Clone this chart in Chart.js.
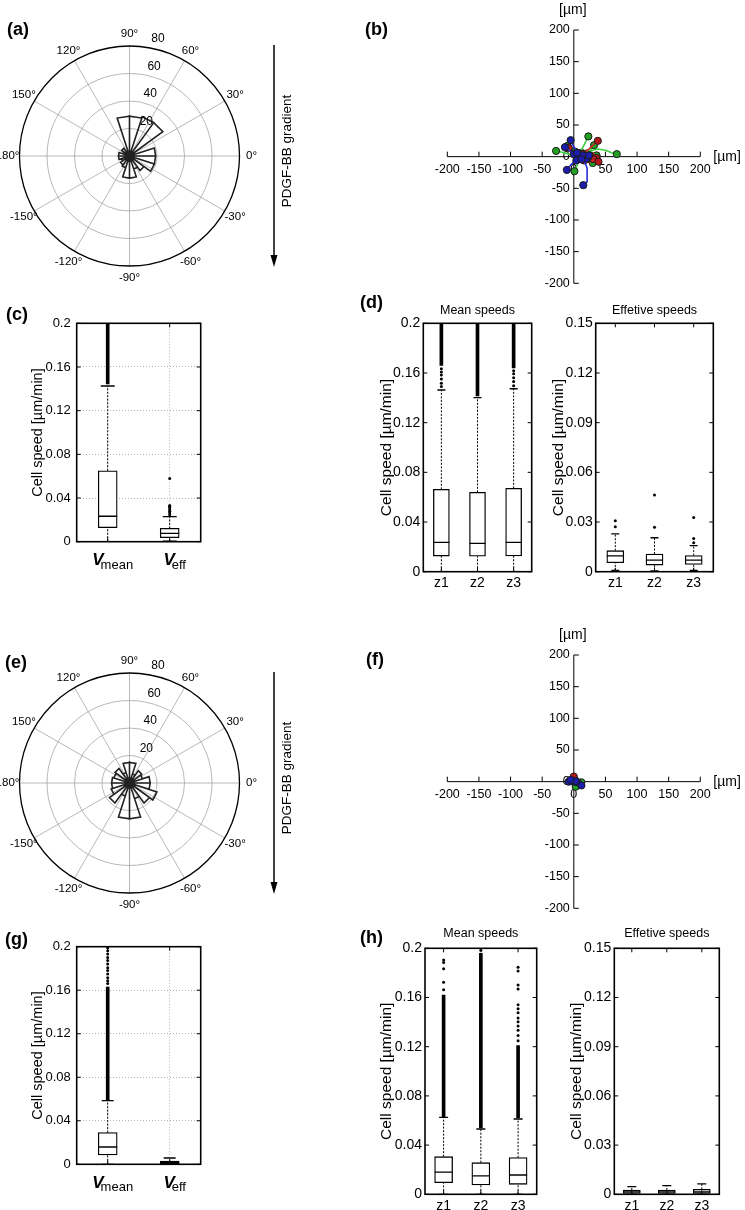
<!DOCTYPE html>
<html>
<head>
<meta charset="utf-8">
<script src="https://cdn.jsdelivr.net/npm/chart.js@4.4.1/dist/chart.umd.min.js"></script>
<style>
  body { margin: 0; background: #fff; }
  #fig { position: relative; width: 745px; height: 1210px; overflow: hidden; font-family: "Liberation Sans", Arial, sans-serif; }
  #fig canvas { position: absolute; }
  .tag { position: absolute; font: bold 18px "Liberation Sans", Arial, sans-serif; line-height: 18px; }
</style>
</head>
<body>
<div id="fig">
  <canvas id="roseA" width="300" height="290" style="left:0;top:0"></canvas>
  <canvas id="trackB" width="385" height="300" style="left:360px;top:0"></canvas>
  <canvas id="boxC" width="215" height="290" style="left:0;top:300px"></canvas>
  <canvas id="boxDMean" width="185" height="290" style="left:360px;top:300px"></canvas>
  <canvas id="boxDEff" width="200" height="290" style="left:545px;top:300px"></canvas>
  <canvas id="roseE" width="300" height="290" style="left:0;top:627px"></canvas>
  <canvas id="trackF" width="385" height="300" style="left:360px;top:625px"></canvas>
  <canvas id="boxG" width="215" height="285" style="left:0;top:925px"></canvas>
  <canvas id="boxHMean" width="190" height="295" style="left:360px;top:915px"></canvas>
  <canvas id="boxHEff" width="195" height="295" style="left:550px;top:915px"></canvas>
  <div class="tag" style="left:7px;top:20px">(a)</div>
  <div class="tag" style="left:365px;top:20px">(b)</div>
  <div class="tag" style="left:6px;top:305px">(c)</div>
  <div class="tag" style="left:360px;top:293px">(d)</div>
  <div class="tag" style="left:5px;top:653px">(e)</div>
  <div class="tag" style="left:366px;top:650px">(f)</div>
  <div class="tag" style="left:5px;top:930px">(g)</div>
  <div class="tag" style="left:360px;top:928px">(h)</div>
</div>
<script>
// ---- rose plots (a), (e): counts per 18 deg bin, starting at 0 deg
const roseBinWidth = 18;
const roseCountsA = [19, 4, 30, 30, 29, 29, 4, 7, 5, 8, 8, 6, 8, 9, 16, 16, 10, 13, 19, 19];
const roseCountsE = [15, 10, 11, 7, 15, 15, 8, 13, 12, 13, 13, 14, 18, 10, 26, 26, 12, 18, 21, 15];
const roseRings = [20, 40, 60, 80];
const roseAngleTicks = [0, 30, 60, 90, 120, 150, 180, -150, -120, -90, -60, -30];

// ---- cell tracks (b), (f): [x, y] in um
const greenTracksB = [
  [[15, 2], [25, 9], [38, 12], [50, 10], [60, 6], [68, 4]],
  [[8, 5], [14, 14], [19, 24], [23, 32]],
  [[5, 3], [-8, 4], [-18, 7], [-28, 9]],
  [[10, -4], [6, -12], [1, -23]],
  [[18, -3], [24, -8], [30, -10]],
  [[12, 6], [24, 10], [36, 2]],
  [[2, 8], [-4, 13], [-10, 17]],
  [[20, 5], [28, 12], [32, 18]]
];
const redTracksB = [
  [[14, 4], [24, 12], [30, 18], [38, 25]],
  [[20, -4], [28, -6], [39, -8]],
  [[16, -6], [24, -9], [31, -4]],
  [[2, 4], [-4, 8], [-8, 14]],
  [[25, 2], [30, 6], [36, -2]]
];
const blueTracksB = [
  [[12, -4], [18, -10], [21, -18], [21, -32], [21, -40], [15, -45]],
  [[4, -6], [-4, -12], [-11, -21]],
  [[5, 6], [0, 16], [-5, 26]],
  [[14, 2], [18, 6], [24, 2]],
  [[10, -2], [16, -6], [20, -3]],
  [[0, 4], [-7, 10], [-14, 15]],
  [[8, 0], [15, 3], [22, -2]]
];
const greenTracksF = [[[4, 0], [8, -3], [12, -1]], [[2, -2], [0, -6], [3, -8]]];
const redTracksF = [[[2, 2], [1, 5], [0, 8]]];
const blueTracksF = [[[3, 1], [-2, 2], [-5, 3]], [[6, -1], [9, -3], [12, -6]], [[0, 0], [-4, -1], [-8, 0]]];
const trackTicks = [-200, -150, -100, -50, 0, 50, 100, 150, 200];

// ---- box plots: [lower whisker, q1, median, q3, upper whisker] per category
const speedCats = ['Vmean', 'Veff'];
const zCats = ['z1', 'z2', 'z3'];

const cStats = [[0, 0.0128, 0.0233, 0.065, 0.1426], [0.0005, 0.0037, 0.0076, 0.0122, 0.0229]];
const cBands = [[0.1445, 0.2], null];
const cDots = [[], [0.0245, 0.0262, 0.0278, 0.0296, 0.0312, 0.0322, 0.0331, 0.0578]];

const dMeanStats = [[0, 0.0126, 0.0236, 0.0663, 0.1463], [0, 0.0125, 0.0228, 0.0639, 0.1402], [0, 0.0127, 0.0236, 0.0671, 0.1473]];
const dMeanBands = [[0.166, 0.2], [0.1415, 0.2], [0.164, 0.2]];
const dMeanDots = [[0.1492, 0.1518, 0.1551, 0.1583, 0.1607, 0.1634], [], [0.1497, 0.1532, 0.1561, 0.1594, 0.1618]];

const dEffStats = [[0.0008, 0.0054, 0.0095, 0.0127, 0.0228], [0.0005, 0.0040, 0.0070, 0.0107, 0.0205], [0.0008, 0.0044, 0.0070, 0.0097, 0.0157]];
const dEffBands = [null, null, null];
const dEffDots = [[0.0272, 0.0308], [0.0268, 0.0463], [0.0175, 0.0200, 0.0328]];

const gStats = [[0, 0.0086, 0.0159, 0.0291, 0.0585], [0, 0.0005, 0.0015, 0.0030, 0.0058]];
const gBands = [[0.0595, 0.163], null];
const gDots = [[0.1662, 0.1688, 0.1715, 0.1749, 0.1781, 0.1806, 0.1842, 0.1873, 0.1901, 0.1934, 0.1962, 0.1991], []];

const hMeanStats = [[0, 0.0095, 0.0181, 0.0306, 0.0626], [0, 0.0076, 0.0149, 0.0257, 0.0531], [0, 0.0081, 0.0157, 0.0298, 0.0612]];
const hMeanBands = [[0.063, 0.162], [0.054, 0.196], [0.062, 0.121]];
const hMeanDots = [
  [0.1662, 0.1724, 0.1833, 0.1884, 0.1905],
  [0.1985],
  [0.1248, 0.1291, 0.1334, 0.1368, 0.1402, 0.1433, 0.1476, 0.1509, 0.1541, 0.1669, 0.1702, 0.1816, 0.1846]
];

const hEffStats = [[0, 0.0005, 0.0015, 0.0026, 0.0047], [0, 0.0005, 0.0015, 0.0026, 0.0053], [0, 0.0005, 0.0015, 0.0030, 0.0063]];
const hEffBands = [null, null, null];
const hEffDots = [[], [], []];

// ---------------------------------------------------------------
const FAM = '"Liberation Sans", Arial, sans-serif';
Chart.defaults.font.family = FAM;
Chart.defaults.color = '#000';
Chart.defaults.animation = false;
Chart.defaults.events = [];
Chart.defaults.plugins.legend.display = false;
Chart.defaults.plugins.tooltip.enabled = false;

function line(ctx, x1, y1, x2, y2) {
  ctx.beginPath(); ctx.moveTo(x1, y1); ctx.lineTo(x2, y2); ctx.stroke();
}

// polar grid, labels and gradient arrow
const roseGrid = {
  id: 'roseGrid',
  beforeDatasetsDraw(chart) {
    const {ctx, scales: {x, y}} = chart;
    const cx = x.getPixelForValue(0), cy = y.getPixelForValue(0);
    const k = x.getPixelForValue(1) - cx;
    const R = roseRings[roseRings.length - 1] * k;
    ctx.save();
    ctx.strokeStyle = '#a6a6a6';
    ctx.lineWidth = 0.8;
    roseAngleTicks.forEach(d => {
      const t = d * Math.PI / 180;
      line(ctx, cx, cy, cx + R * Math.cos(t), cy - R * Math.sin(t));
    });
    roseRings.forEach((r, i) => {
      if (i === roseRings.length - 1) { ctx.strokeStyle = '#000'; ctx.lineWidth = 1.3; }
      ctx.beginPath(); ctx.arc(cx, cy, r * k, 0, 2 * Math.PI); ctx.stroke();
    });
    ctx.restore();
  },
  afterDraw(chart) {
    const {ctx, scales: {x, y}} = chart;
    const cx = x.getPixelForValue(0), cy = y.getPixelForValue(0);
    const k = x.getPixelForValue(1) - cx;
    const R = roseRings[roseRings.length - 1] * k;
    ctx.save();
    ctx.fillStyle = '#000';
    ctx.textAlign = 'center';
    ctx.textBaseline = 'middle';
    ctx.font = '11.5px ' + FAM;
    roseAngleTicks.forEach(d => {
      const t = d * Math.PI / 180;
      ctx.fillText(d + '°', cx + (R + 12) * Math.cos(t), cy - (R + 12) * Math.sin(t));
    });
    ctx.font = '12px ' + FAM;
    roseRings.forEach(r => {
      const p = r * k;
      ctx.fillText(String(r), cx + 0.14 * p + 13, cy - p - 7);
    });
    // gradient arrow
    ctx.strokeStyle = '#000';
    ctx.lineWidth = 1.5;
    line(ctx, 274, 45, 274, 258);
    ctx.beginPath(); ctx.moveTo(274, 267); ctx.lineTo(270.5, 255); ctx.lineTo(277.5, 255); ctx.closePath(); ctx.fill();
    ctx.translate(287, 151);
    ctx.rotate(-Math.PI / 2);
    ctx.font = '13.5px ' + FAM;
    ctx.fillText('PDGF-BB gradient', 0, 0);
    ctx.restore();
  }
};

function rosePoints(counts) {
  const pts = [];
  counts.forEach((n, i) => {
    const a0 = i * roseBinWidth * Math.PI / 180, a1 = (i + 1) * roseBinWidth * Math.PI / 180;
    pts.push({x: 0, y: 0}, {x: n * Math.cos(a0), y: n * Math.sin(a0)}, {x: n * Math.cos(a1), y: n * Math.sin(a1)});
  });
  pts.push({x: 0, y: 0});
  return pts;
}

function roseChart(id, counts) {
  const lim = roseRings[roseRings.length - 1];
  new Chart(document.getElementById(id), {
    type: 'scatter',
    data: {
      datasets: [{
        data: rosePoints(counts),
        showLine: true,
        borderColor: '#222',
        borderWidth: 1.6,
        pointRadius: 0
      }]
    },
    options: {
      responsive: false,
      layout: { padding: { left: 19.5, right: 60.5, top: 46, bottom: 24 } },
      scales: {
        x: { min: -lim, max: lim, display: false },
        y: { min: -lim, max: lim, display: false }
      }
    },
    plugins: [roseGrid]
  });
}

// cross shaped axes through the origin
const crossAxes = {
  id: 'crossAxes',
  beforeDatasetsDraw(chart) {
    const {ctx, scales: {x, y}} = chart;
    const x0 = x.getPixelForValue(0), y0 = y.getPixelForValue(0);
    const first = trackTicks[0], last = trackTicks[trackTicks.length - 1];
    ctx.save();
    ctx.strokeStyle = '#000';
    ctx.lineWidth = 1;
    line(ctx, x.getPixelForValue(first), y0, x.getPixelForValue(last), y0);
    line(ctx, x0, y.getPixelForValue(last), x0, y.getPixelForValue(first));
    ctx.fillStyle = '#000';
    ctx.font = '12.5px ' + FAM;
    trackTicks.forEach(v => {
      const px = x.getPixelForValue(v), py = y.getPixelForValue(v);
      line(ctx, px, y0, px, y0 - 5);
      line(ctx, x0, py, x0 + 5, py);
      ctx.textAlign = 'center'; ctx.textBaseline = 'middle';
      ctx.fillText(String(v), px, y0 + 13);
      ctx.textAlign = 'right';
      ctx.fillText(String(v), x0 - 4, py);
    });
    ctx.font = '14px ' + FAM;
    ctx.textAlign = 'center';
    ctx.fillText('[µm]', x0 - 1, y.getPixelForValue(last) - 20);
    ctx.textAlign = 'left';
    ctx.fillText('[µm]', x.getPixelForValue(last) + 13, y0);
    ctx.restore();
  }
};

function trackSets(list, lineColor, fill, order) {
  return list.map(tr => ({
    data: tr.map(([x, y]) => ({x, y})),
    showLine: true,
    borderColor: lineColor,
    borderWidth: 1.6,
    pointRadius: c => (c.dataIndex === 0 || c.dataIndex === tr.length - 1) ? 3.6 : 0,
    pointBackgroundColor: fill,
    pointBorderColor: '#1a1a1a',
    pointBorderWidth: 1,
    order
  }));
}

function trackChart(id, green, red, blue) {
  const first = trackTicks[0], last = trackTicks[trackTicks.length - 1];
  new Chart(document.getElementById(id), {
    type: 'scatter',
    data: {
      datasets: [
        ...trackSets(green, '#3fd13f', '#23a023', 3),
        ...trackSets(red, '#d42222', '#b31818', 2),
        ...trackSets(blue, '#2a2ad8', '#1c1caa', 1)
      ]
    },
    options: {
      responsive: false,
      layout: { padding: { left: 87.3, right: 44.7, top: 30, bottom: 16.7 } },
      scales: {
        x: { min: first, max: last, display: false },
        y: { min: first, max: last, display: false }
      }
    },
    plugins: [crossAxes]
  });
}

// matlab style frame, inner ticks, titles
const frame = {
  id: 'frame',
  afterDraw(chart, args, o) {
    const {ctx, chartArea: a, scales: {x, y}} = chart;
    ctx.save();
    ctx.strokeStyle = '#000';
    ctx.lineWidth = 1;
    y.ticks.forEach((t, i) => {
      const py = y.getPixelForTick(i);
      line(ctx, a.left, py, a.left + 4, py);
      line(ctx, a.right - 4, py, a.right, py);
    });
    x.ticks.forEach((t, i) => {
      const px = x.getPixelForTick(i);
      line(ctx, px, a.top, px, a.top + 4);
      line(ctx, px, a.bottom - 4, px, a.bottom);
    });
    ctx.lineWidth = 1.6;
    ctx.strokeRect(a.left, a.top, a.right - a.left, a.bottom - a.top);
    ctx.fillStyle = '#000';
    if (o.title) {
      ctx.font = '12.5px ' + FAM;
      ctx.textAlign = 'center'; ctx.textBaseline = 'middle';
      ctx.fillText(o.title, (a.left + a.right) / 2, o.titleY);
    }
    if (o.subLabels) {
      chart.data.labels.forEach((label, i) => {
        const px = x.getPixelForTick(i);
        const sub = label.slice(1);
        ctx.font = 'italic bold 17px ' + FAM;
        const wV = ctx.measureText('V').width;
        ctx.font = '13px ' + FAM;
        const wS = ctx.measureText(sub).width;
        const x0 = px + 5 - (wV + wS - 3) / 2;
        ctx.textAlign = 'left'; ctx.textBaseline = 'alphabetic';
        ctx.font = 'italic bold 17px ' + FAM;
        ctx.fillText('V', x0, a.bottom + 23.5);
        ctx.font = '13px ' + FAM;
        ctx.fillText(sub, x0 + wV - 3, a.bottom + 27);
      });
    }
    ctx.translate(o.yTitleX, (a.top + a.bottom) / 2);
    ctx.rotate(-Math.PI / 2);
    ctx.font = o.yTitleSize + 'px ' + FAM;
    ctx.textAlign = 'center'; ctx.textBaseline = 'middle';
    ctx.fillText('Cell speed [µm/min]', 0, 0);
    ctx.restore();
  }
};

function boxChart(id, cats, stats, bands, dots, o) {
  const canvas = document.getElementById(id);
  const [L, T, R, B] = o.area;
  const whisker = [], caps = [], meds = [], boxes = [], dotPts = [];
  cats.forEach((c, i) => {
    const [lo, q1, med, q3, hi] = stats[i];
    whisker.push({x: c, y: lo}, {x: c, y: q1}, {x: c, y: null}, {x: c, y: q3}, {x: c, y: hi}, {x: c, y: null});
    caps.push({x: c, y: lo}, {x: c, y: hi});
    meds.push({x: c, y: med});
    boxes.push([q1, q3]);
    dots[i].forEach(v => dotPts.push({x: c, y: v}));
  });
  const gridOn = !!o.grid;
  new Chart(canvas, {
    type: 'bar',
    data: {
      labels: cats,
      datasets: [
        { type: 'line', data: whisker, borderColor: '#000', borderWidth: 1, borderDash: [2, 1.5], pointRadius: 0, order: 5 },
        { data: bands, backgroundColor: '#000', barThickness: 3, grouped: false, order: 4 },
        { data: boxes, backgroundColor: '#fff', borderColor: '#000', borderWidth: 1.3, borderSkipped: false, barThickness: o.boxW, grouped: false, order: 3 },
        { type: 'line', data: meds, showLine: false, pointStyle: 'line', pointRadius: o.boxW / 2, borderColor: '#000', pointBorderWidth: 1.3, order: 2 },
        { type: 'line', data: caps, showLine: false, pointStyle: 'line', pointRadius: o.capW, borderColor: '#000', pointBorderWidth: 1.3, order: 2 },
        { type: 'line', data: dotPts, showLine: false, pointStyle: 'circle', pointRadius: 1.5, backgroundColor: '#000', borderColor: '#000', pointBorderWidth: 0, order: 1 }
      ]
    },
    options: {
      responsive: false,
      layout: { padding: { left: 0, top: T, right: canvas.width - R, bottom: 0 } },
      scales: {
        x: {
          type: 'category',
          offset: true,
          grid: { display: gridOn, drawTicks: false, offset: false, color: '#b4b4b4', lineWidth: 1 },
          border: { display: false, dash: [1, 2] },
          ticks: { display: !o.subLabels, font: { size: 14 }, padding: 3 },
          afterFit: s => { s.height = canvas.height - B; }
        },
        y: {
          min: 0,
          max: o.yMax,
          grid: { display: gridOn, drawTicks: false, color: '#b4b4b4', lineWidth: 1 },
          border: { display: false, dash: [1, 2] },
          ticks: { stepSize: o.yStep, font: { size: o.tickSize }, padding: o.tickPad, callback: v => String(+v.toFixed(3)) },
          afterFit: s => { s.width = L; }
        }
      },
      plugins: { frame: o }
    },
    plugins: [frame]
  });
}

roseChart('roseA', roseCountsA);
roseChart('roseE', roseCountsE);
trackChart('trackB', greenTracksB, redTracksB, blueTracksB);
trackChart('trackF', greenTracksF, redTracksF, blueTracksF);

boxChart('boxC', speedCats, cStats, cBands, cDots, {
  area: [76.7, 23.3, 200.7, 241.7], yMax: 0.2, yStep: 0.04, boxW: 19, capW: 7, grid: true,
  subLabels: true, tickSize: 13, tickPad: 6, yTitleX: 38, yTitleSize: 14.5
});
boxChart('boxDMean', zCats, dMeanStats, dMeanBands, dMeanDots, {
  area: [63.3, 23.3, 171.7, 271.7], yMax: 0.2, yStep: 0.04, boxW: 16, capW: 4,
  tickSize: 14, tickPad: 3, yTitleX: 26.7, yTitleSize: 15.5, title: 'Mean speeds', titleY: 10.7
});
boxChart('boxDEff', zCats, dEffStats, dEffBands, dEffDots, {
  area: [50.7, 23.3, 168.3, 271.7], yMax: 0.15, yStep: 0.03, boxW: 17, capW: 4,
  tickSize: 14, tickPad: 3, yTitleX: 14, yTitleSize: 15.5, title: 'Effetive speeds', titleY: 10.7
});
boxChart('boxG', speedCats, gStats, gBands, gDots, {
  area: [76.7, 21.7, 200.7, 239.3], yMax: 0.2, yStep: 0.04, boxW: 19, capW: 6, grid: true,
  subLabels: true, tickSize: 13, tickPad: 6, yTitleX: 38, yTitleSize: 14.5
});
boxChart('boxHMean', zCats, hMeanStats, hMeanBands, hMeanDots, {
  area: [65, 33.3, 176.7, 279.3], yMax: 0.2, yStep: 0.04, boxW: 18, capW: 4.5,
  tickSize: 14, tickPad: 3, yTitleX: 26.7, yTitleSize: 15.5, title: 'Mean speeds', titleY: 18.3
});
boxChart('boxHEff', zCats, hEffStats, hEffBands, hEffDots, {
  area: [64.3, 33.3, 169.3, 279.3], yMax: 0.15, yStep: 0.03, boxW: 17, capW: 4.5,
  tickSize: 14, tickPad: 3, yTitleX: 26.7, yTitleSize: 15.5, title: 'Effetive speeds', titleY: 18.3
});
</script>
</body>
</html>
